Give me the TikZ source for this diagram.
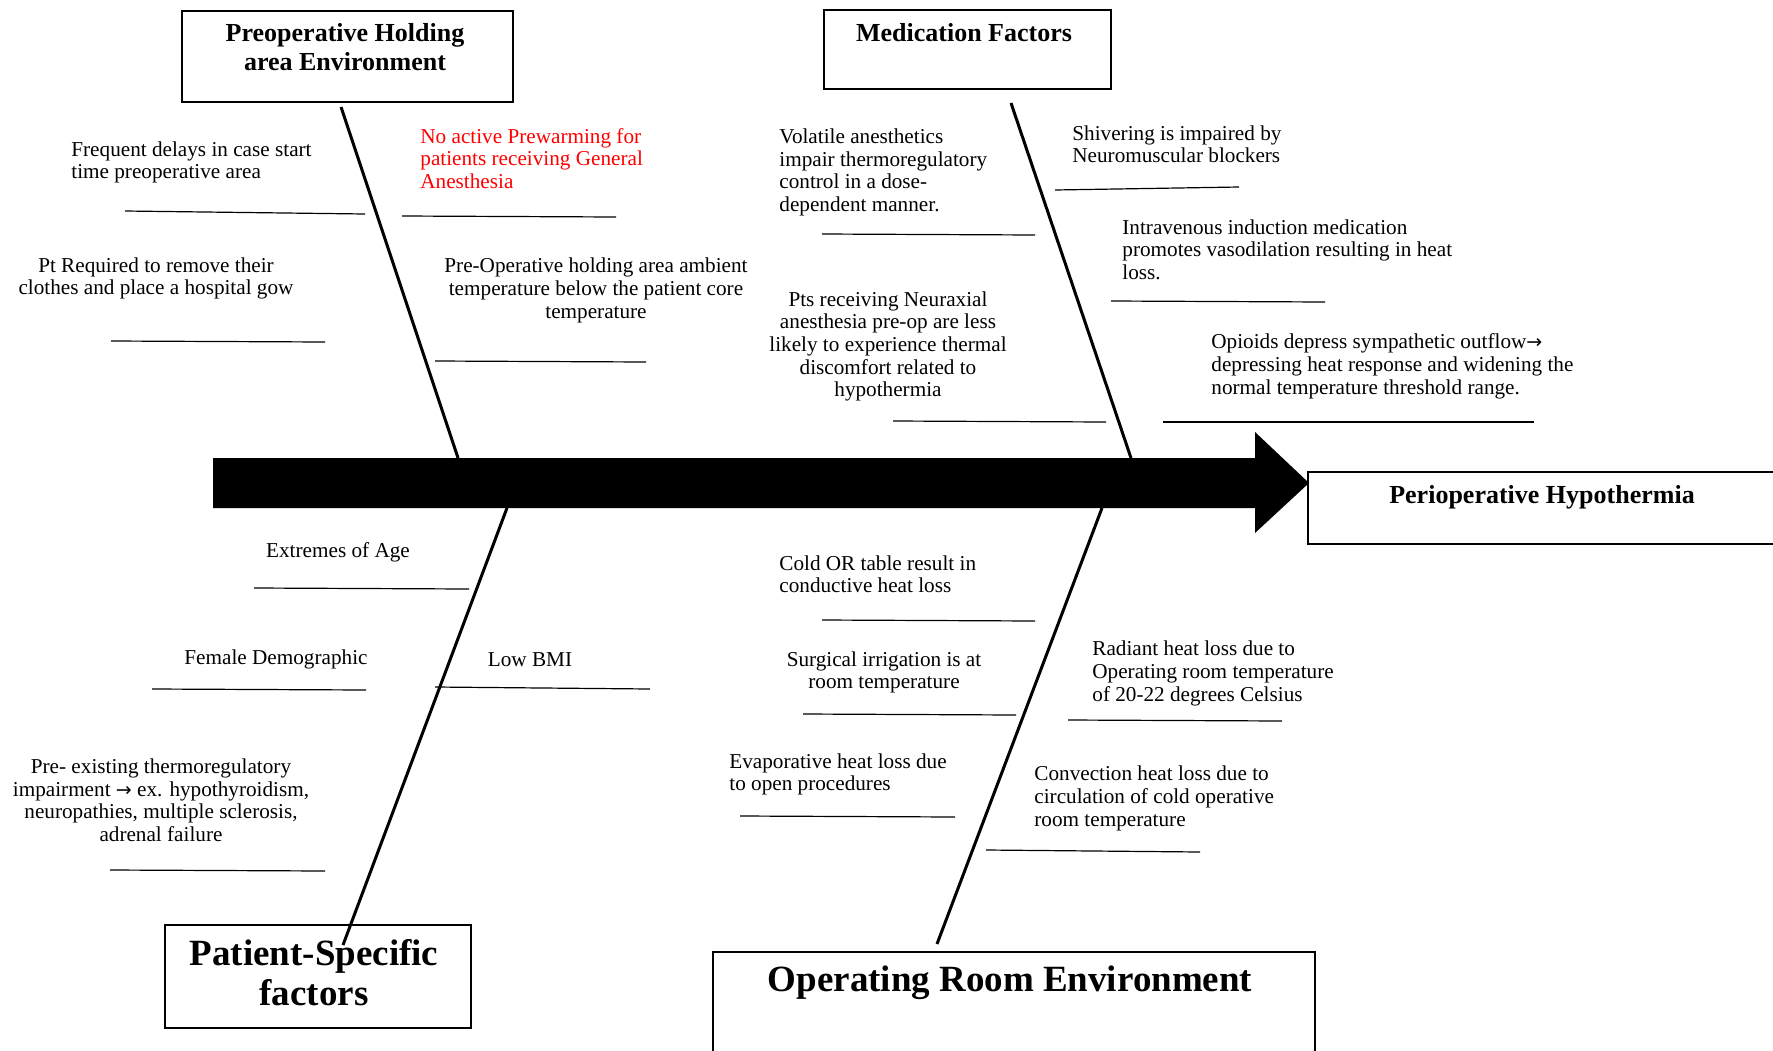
\documentclass[tikz,border=0pt]{standalone}
\usepackage{fontspec}
\setmainfont{Liberation Serif}
\newfontfamily\arrowfont{DejaVu Sans}
\newcommand{\rarr}{{\arrowfont\fontsize{9.5}{11.3}\selectfont →}}
\begin{document}
\begin{tikzpicture}[x=0.5pt,y=-0.5pt,
  box/.style={draw,line width=1.1pt,inner sep=0,anchor=north west},
  title/.style={font=\bfseries\fontsize{13}{14.5}\selectfont,align=center,inner sep=0},
  bigtitle/.style={font=\bfseries\fontsize{18.5}{20}\selectfont,align=center,inner sep=0},
  cause/.style={font=\fontsize{10.6}{11.3}\selectfont,inner sep=0,yshift=-1.2pt},
  lcause/.style={cause,align=left,anchor=west},
  ccause/.style={cause,align=center,anchor=center},
  spine/.style={line width=1.5pt},
  subline/.style={line width=0.6pt}]
\clip (0,0) rectangle (1773,1050);
\fill[white] (0,0) rectangle (1773,1050);

% main arrow
\fill[black] (213,458) -- (1255,458) -- (1255,432) -- (1309,483) -- (1255,533) -- (1255,508) -- (213,508) -- cycle;

% boxes (sizes in pt = pixels/2)
\node[box,minimum width=165.5pt,minimum height=45.5pt] (preop) at (181,10) {};
\node[title] (preopt) at (345,47) {Preoperative Holding\\area Environment};
\node[box,minimum width=143.5pt,minimum height=39.5pt] (med) at (823,9) {};
\node[title] (medt) at (964,33) {Medication Factors};
\node[box,minimum width=245pt,minimum height=36pt] (hyp) at (1307,471) {};
\node[title] (hypt) at (1542,497) {Perioperative Hypothermia};
\node[box,minimum width=153pt,minimum height=51.5pt] (pat) at (164,924) {};
\node[bigtitle] (patt) at (314,973) {Patient-Specific\\factors};
\node[box,minimum width=301pt,minimum height=65pt] (orenv) at (712,951) {};
\node[bigtitle] (orenvt) at (1010,983) {Operating Room Environment};

% spines
\coordinate (ulA) at (341,107); \coordinate (ulB) at (458,458);
\coordinate (urA) at (1011,103); \coordinate (urB) at (1131,458);
\coordinate (llA) at (507,508); \coordinate (llB) at (343,945);
\coordinate (lrA) at (1102,508); \coordinate (lrB) at (937,944);
\draw[spine] (ulA) -- (ulB);
\draw[spine] (urA) -- (urB);
\draw[spine] (llA) -- (llB);
\draw[spine] (lrA) -- (lrB);

% upper-left causes
\node[lcause] (c1) at (71,160) {Frequent delays in case start\\time preoperative area};
\node[lcause,text=red] (c2) at (420,156) {No active Prewarming for\\patients receiving General\\Anesthesia};
\node[ccause] (c3) at (156,276) {Pt Required to remove their\\clothes and place a hospital gow};
\node[ccause] (c4) at (596,288) {Pre-Operative holding area ambient\\temperature below the patient core\\temperature};
\draw[subline] (125,211) -- (365,214);
\draw[subline] (402,216) -- (616,217);
\draw[subline] (111,341) -- (325,342);
\draw[subline] (435,361) -- (646,362);

% upper-right causes
\node[lcause] (c5) at (779,170) {Volatile anesthetics\\impair thermoregulatory\\control in a dose-\\dependent manner.};
\node[ccause] (c6) at (888,344) {Pts receiving Neuraxial\\anesthesia pre-op are less\\likely to experience thermal\\discomfort related to\\hypothermia};
\node[lcause] (c7) at (1072,142) {Shivering is impaired by\\Neuromuscular blockers};
\node[lcause] (c8) at (1122,247) {Intravenous induction medication\\promotes vasodilation resulting in heat\\loss.};
\node[lcause] (c9) at (1211,364) {Opioids depress sympathetic outflow\rarr\\depressing heat response and widening the\\normal temperature threshold range.};
\draw[subline] (822,234) -- (1035,235);
\draw[subline] (893,421) -- (1106,422);
\draw[subline] (1055,190) -- (1239,187);
\draw[subline] (1111,301) -- (1325,302);
\draw[subline] (1163,422) -- (1534,422);

% lower-left causes
\node[ccause] (c10) at (338,550) {Extremes of Age};
\node[ccause] (c11) at (276,657) {Female Demographic};
\node[ccause] (c12) at (530,657) {Low BMI};
\node[ccause] (c13) at (161,798) {Pre- existing thermoregulatory\\impairment \rarr{} ex. hypothyroidism,\\neuropathies, multiple sclerosis,\\adrenal failure};
\draw[subline] (254,588) -- (469,589);
\draw[subline] (152,689) -- (366,690);
\draw[subline] (435,687) -- (650,689);
\draw[subline] (110,870) -- (325,871);

% lower-right causes
\node[lcause] (c14) at (779,572) {Cold OR table result in\\conductive heat loss};
\node[ccause] (c15) at (884,670) {Surgical irrigation is at\\room temperature};
\node[lcause] (c16) at (729,772) {Evaporative heat loss due\\to open procedures};
\node[lcause] (c17) at (1092,671) {Radiant heat loss due to\\Operating room temperature\\of 20-22 degrees Celsius};
\node[lcause] (c18) at (1034,796) {Convection heat loss due to\\circulation of cold operative\\room temperature};
\draw[subline] (822,620) -- (1035,621);
\draw[subline] (803,714) -- (1016,715);
\draw[subline] (740,816) -- (955,817);
\draw[subline] (1068,720) -- (1282,721);
\draw[subline] (986,850) -- (1200,852);
\end{tikzpicture}
\end{document}
